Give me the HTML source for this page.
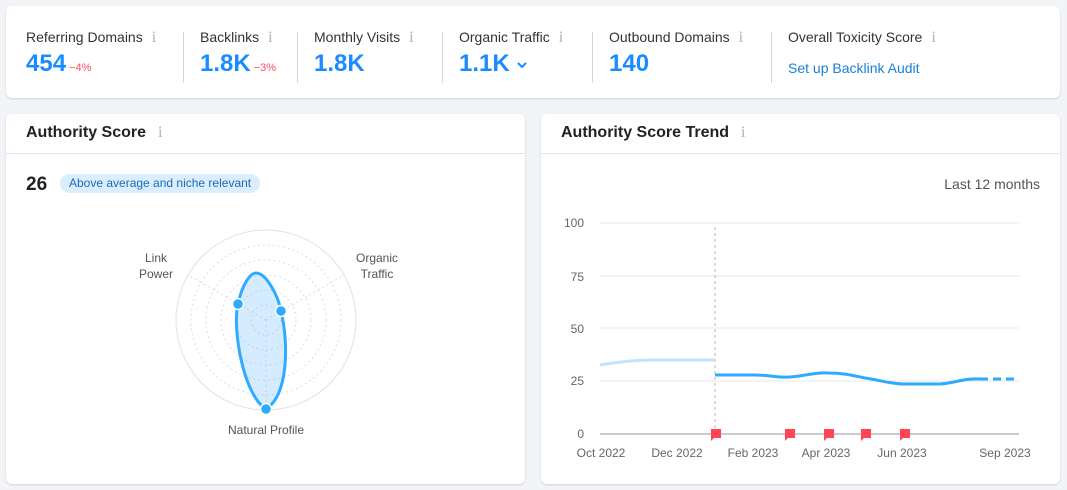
<!DOCTYPE html>
<html><head><meta charset="utf-8"><style>
body{margin:0;width:1067px;height:490px;background:#f3f4f8;font-family:"Liberation Sans",sans-serif;position:relative;overflow:hidden;color:#333}
.card{position:absolute;background:#fff;border-radius:6px;box-shadow:0 1px 2px rgba(0,0,0,.15)}
.lbl{position:absolute;top:23px;font-size:14px;color:#333}
.i{color:#b0b0b8;font-family:"Liberation Serif",serif;margin-left:9px;font-size:16px}
.val{position:absolute;top:44px;font-size:24px;font-weight:bold;color:#1a8cff}
.val small{font-size:11px;color:#ff4d5a;font-weight:normal;margin-left:3px}
.sep{position:absolute;top:26px;width:1px;height:51px;background:#d6d7de}
.h{position:absolute;left:20px;top:126px;font-size:16px;font-weight:bold;color:#222}
.hl{position:absolute;left:0;right:0;top:39px;height:1px;background:#e2e3e8}
</style></head><body>
<div class="card" style="left:6px;top:6px;width:1054px;height:92px">
<div class="lbl" style="left:20px">Referring Domains<span class="i">i</span></div>
<div class="val" style="left:20px">454<small>−4%</small></div>
<div class="sep" style="left:177px"></div>
<div class="lbl" style="left:194px">Backlinks<span class="i">i</span></div>
<div class="val" style="left:194px">1.8K<small>−3%</small></div>
<div class="sep" style="left:291px"></div>
<div class="lbl" style="left:308px">Monthly Visits<span class="i">i</span></div>
<div class="val" style="left:308px">1.8K</div>
<div class="sep" style="left:436px"></div>
<div class="lbl" style="left:453px">Organic Traffic<span class="i">i</span></div>
<div class="val" style="left:453px">1.1K <svg width="12" height="10" style="vertical-align:middle"><path d="M2,3 L6,7 L10,3" fill="none" stroke="#1a8cff" stroke-width="2"/></svg></div>
<div class="sep" style="left:586px"></div>
<div class="lbl" style="left:603px">Outbound Domains<span class="i">i</span></div>
<div class="val" style="left:603px">140</div>
<div class="sep" style="left:765px"></div>
<div class="lbl" style="left:782px">Overall Toxicity Score<span class="i">i</span></div>
<div style="position:absolute;left:782px;top:54px;font-size:14px;color:#1a7fd6">Set up Backlink Audit</div>
</div>
<div class="card" style="left:6px;top:114px;width:519px;height:370px">
<div class="h" style="top:10px">Authority Score<span class="i" style="font-weight:normal;margin-left:12px">i</span></div>
<div class="hl"></div>
<div style="position:absolute;left:20px;top:60px;font-size:19px;font-weight:bold;color:#222">26</div>
<div style="position:absolute;left:54px;top:60px;height:19px;padding:0 9px;border-radius:10px;background:#dbeeff;color:#1d6bb8;font-size:12px;line-height:19px">Above average and niche relevant</div>
</div>
<div class="card" style="left:541px;top:114px;width:519px;height:370px">
<div class="h" style="top:10px">Authority Score Trend<span class="i" style="font-weight:normal;margin-left:12px">i</span></div>
<div class="hl"></div>
<div style="position:absolute;right:20px;top:62px;font-size:14px;color:#555">Last 12 months</div>
</div>
<svg width="1067" height="490" style="position:absolute;left:0;top:0" font-family="Liberation Sans,sans-serif">
<g fill="none" stroke="#dcdde3" stroke-dasharray="2,3">
<circle cx="266" cy="320" r="15"/><circle cx="266" cy="320" r="30"/><circle cx="266" cy="320" r="45"/><circle cx="266" cy="320" r="60"/><circle cx="266" cy="320" r="75"/>
<line x1="266" y1="320" x2="188" y2="275"/><line x1="266" y1="320" x2="344" y2="275"/><line x1="266" y1="320" x2="266" y2="410"/>
</g>
<circle cx="266" cy="320" r="90" fill="none" stroke="#e0e1e6"/>
<path d="M266,409 C244,396 232,330 238,304 C242,285 250,273 256,273 C266,273 278,295 281,311 C289,345 288,395 266,409 Z" fill="rgba(66,170,255,0.22)" stroke="#2eaaff" stroke-width="3"/>
<g fill="#2eaaff" stroke="#fff" stroke-width="1.5"><circle cx="238" cy="304" r="5.5"/><circle cx="281" cy="311" r="5.5"/><circle cx="266" cy="409" r="5.5"/></g>
<g font-size="12" fill="#555" text-anchor="middle"><text x="156" y="262">Link</text><text x="156" y="278">Power</text><text x="377" y="262">Organic</text><text x="377" y="278">Traffic</text><text x="266" y="434">Natural Profile</text></g>
<g stroke="#e6e7eb"><line x1="600" x2="1019" y1="223" y2="223"/><line x1="600" x2="1019" y1="276" y2="276"/><line x1="600" x2="1019" y1="328" y2="328"/><line x1="600" x2="1019" y1="381" y2="381"/></g>
<line x1="600" x2="1019" y1="434" y2="434" stroke="#c9cad0" stroke-width="2"/>
<g font-size="12" fill="#666" text-anchor="end"><text x="584" y="227">100</text><text x="584" y="281">75</text><text x="584" y="333">50</text><text x="584" y="385">25</text><text x="584" y="438">0</text></g>
<g font-size="12" fill="#666" text-anchor="middle"><text x="601" y="457">Oct 2022</text><text x="677" y="457">Dec 2022</text><text x="753" y="457">Feb 2023</text><text x="826" y="457">Apr 2023</text><text x="902" y="457">Jun 2023</text><text x="1005" y="457">Sep 2023</text></g>
<line x1="715" x2="715" y1="227" y2="432" stroke="#b5b6bd" stroke-dasharray="3,3"/>
<path d="M600,365 C630,360 645,360 660,360 L715,360" fill="none" stroke="#c3e3fb" stroke-width="3"/>
<path d="M715,375 L755,375 C770,375 778,378 790,377 C805,376 815,372 828,373 C845,373 855,376 865,378 C880,380 890,384 905,384 L940,384 C955,383 965,378 980,379" fill="none" stroke="#2eaaff" stroke-width="3"/>
<line x1="980" x2="1015" y1="379" y2="379" stroke="#2eaaff" stroke-width="3" stroke-dasharray="8,5"/>
<g fill="#ff4553"><path d="M711,429h10v9h-7l-3,3z"/><path d="M785,429h10v9h-7l-3,3z"/><path d="M824,429h10v9h-7l-3,3z"/><path d="M861,429h10v9h-7l-3,3z"/><path d="M900,429h10v9h-7l-3,3z"/></g>
</svg>
</body></html>
